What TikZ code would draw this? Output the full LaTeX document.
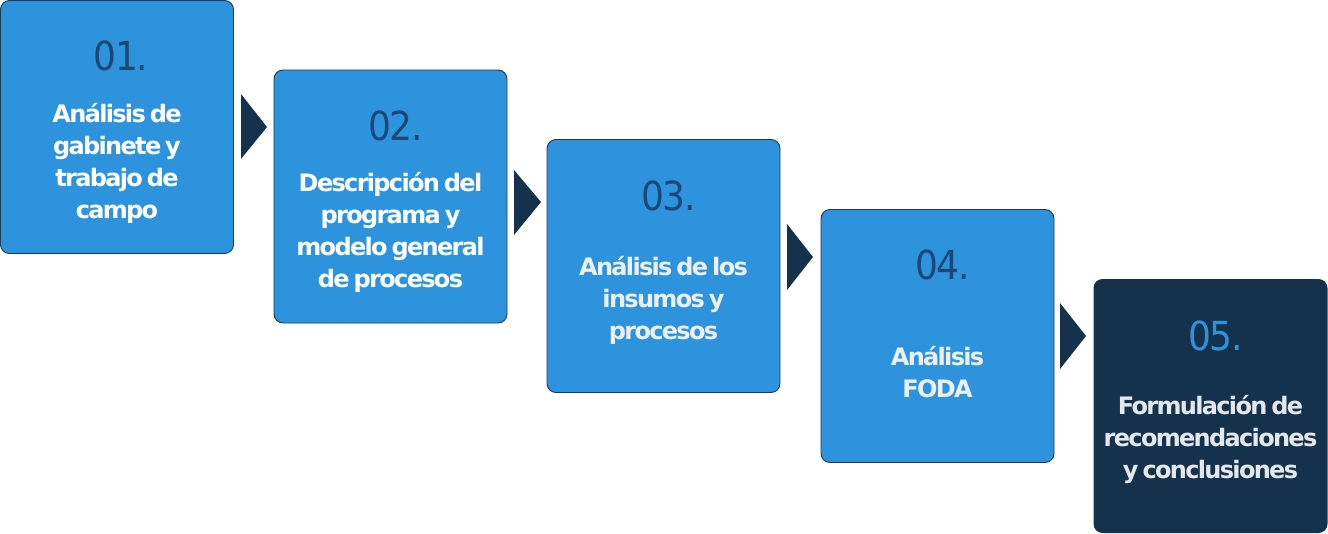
\documentclass[tikz,border=0pt]{standalone}
\usepackage{fontspec}
\setmainfont{DejaVu Sans}
\newfontfamily\numfont[LetterSpace=-3]{DejaVu Sans Condensed}
\newfontfamily\txtfont[LetterSpace=-7,WordSpace=0.6]{DejaVu Sans}
\usetikzlibrary{calc}
\definecolor{boxblue}{RGB}{46,147,221}
\definecolor{boxdark}{RGB}{21,50,76}
\definecolor{numblue}{RGB}{27,72,120}
\definecolor{edgeblue}{RGB}{30,58,86}
\definecolor{softwhite}{RGB}{236,240,244}
\tikzset{
  stepbox/.style={draw=edgeblue, line width=0.9pt, fill=boxblue, rounded corners=9pt,
    minimum width=233pt, minimum height=253pt, inner sep=0pt},
  lastbox/.style={stepbox, draw=none, fill=boxdark},
  numtxt/.style={inner sep=0pt, text=numblue, font=\numfont\fontsize{40}{44}\selectfont},
  bodytxt/.style={inner sep=0pt, align=center, text=white,
    font=\txtfont\bfseries\fontsize{24}{32}\selectfont},
  chevron/.style={fill=boxdark, draw=none}
}
\begin{document}
\begin{tikzpicture}[x=1pt,y=-1pt]
\useasboundingbox (0,0) rectangle (1328,533);
\node[stepbox] (b1) at (117,127) {};
\node[stepbox] (b2) at (390.5,196.5) {};
\node[stepbox] (b3) at (663.5,266) {};
\node[stepbox] (b4) at (937.5,336) {};
\node[lastbox, minimum width=234pt, minimum height=254pt] (b5) at (1210.5,406) {};

\node[numtxt] (n1) at ($(b1.north)+(4,56)$) {01.};
\node[numtxt] (n2) at ($(b2.north)+(5,56)$) {02.};
\node[numtxt] (n3) at ($(b3.north)+(5,57)$) {03.};
\node[numtxt] (n4) at ($(b4.north)+(5,56)$) {04.};
\node[numtxt, text=boxblue] (n5) at ($(b5.north)+(5,57)$) {05.};

\node[bodytxt] (t1) at ($(b1.center)+(0,36)$) {Análisis de\\gabinete y\\trabajo de\\campo};
\node[bodytxt] (t2) at ($(b2.center)+(0,36)$) {Descripción del\\programa y\\modelo general\\de procesos};
\node[bodytxt, text=softwhite] (t3) at ($(b3.center)+(0,34)$) {Análisis de los\\insumos y\\procesos};
\node[bodytxt, text=softwhite] (t4) at ($(b4.center)+(0,36)$) {Análisis\\FODA};
\node[bodytxt, text={rgb,255:red,228;green,232;blue,236}] (t5) at ($(b5.center)+(0,33)$) {Formulación de\\recomendaciones\\y conclusiones};

\fill[chevron] (241,94) -- (267,127) -- (241,159) -- cycle;
\fill[chevron] (514,170) -- (541,202) -- (514,235) -- cycle;
\fill[chevron] (787,224) -- (813,257) -- (787,290) -- cycle;
\fill[chevron] (1060,303) -- (1086,336) -- (1060,369) -- cycle;
\end{tikzpicture}
\end{document}
